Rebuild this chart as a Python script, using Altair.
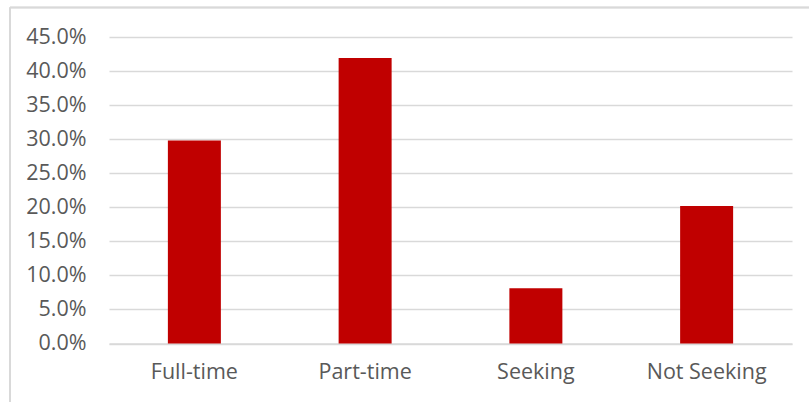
import altair as alt
import pandas as pd

# Share of respondents by employment status
categories = ["Full-time", "Part-time", "Seeking", "Not Seeking"]
shares = [0.298, 0.419, 0.081, 0.202]

df = pd.DataFrame({"status": categories, "share": shares})

FONT = "Open Sans"
TEXT = "#595959"
GRID = "#d9d9d9"

bars = alt.Chart(df).mark_bar(color="#c00000", size=53).encode(
    x=alt.X(
        "status:N",
        sort=categories,
        scale=alt.Scale(paddingInner=0, paddingOuter=0),
        axis=alt.Axis(
            title=None,
            labelAngle=0,
            ticks=False,
            domain=True,
            domainColor=GRID,
            domainWidth=1.3,
            labelPadding=18,
            labelFont=FONT,
            labelFontSize=21.5,
            labelColor=TEXT,
        ),
    ),
    y=alt.Y(
        "share:Q",
        scale=alt.Scale(domain=[0, 0.45], nice=False),
        axis=alt.Axis(
            title=None,
            format=".1%",
            values=[i * 0.05 for i in range(10)],
            domain=False,
            ticks=False,
            grid=True,
            gridColor=GRID,
            gridWidth=1.3,
            labelPadding=23,
            labelFont=FONT,
            labelFontSize=21.5,
            labelColor=TEXT,
        ),
    ),
)

# Light frame around the chart (top and left edges)
frame_top = alt.Chart(df).mark_rule(color=GRID, strokeWidth=1.5).encode(
    x=alt.value(-99), x2=alt.value(720), y=alt.value(-29.5)
)
frame_left = alt.Chart(df).mark_rule(color=GRID, strokeWidth=1.5).encode(
    x=alt.value(-99), y=alt.value(-29.5), y2=alt.value(380)
)

chart = (
    alt.layer(bars, frame_top, frame_left)
    .properties(
        width=683,
        height=306.5,
        padding={"left": 109, "top": 37, "right": 17, "bottom": 58},
        autosize="none",
        background="white",
    )
    .configure_view(stroke=None)
)

chart.save("out.html", embed_options={"renderer": "svg", "actions": False})
